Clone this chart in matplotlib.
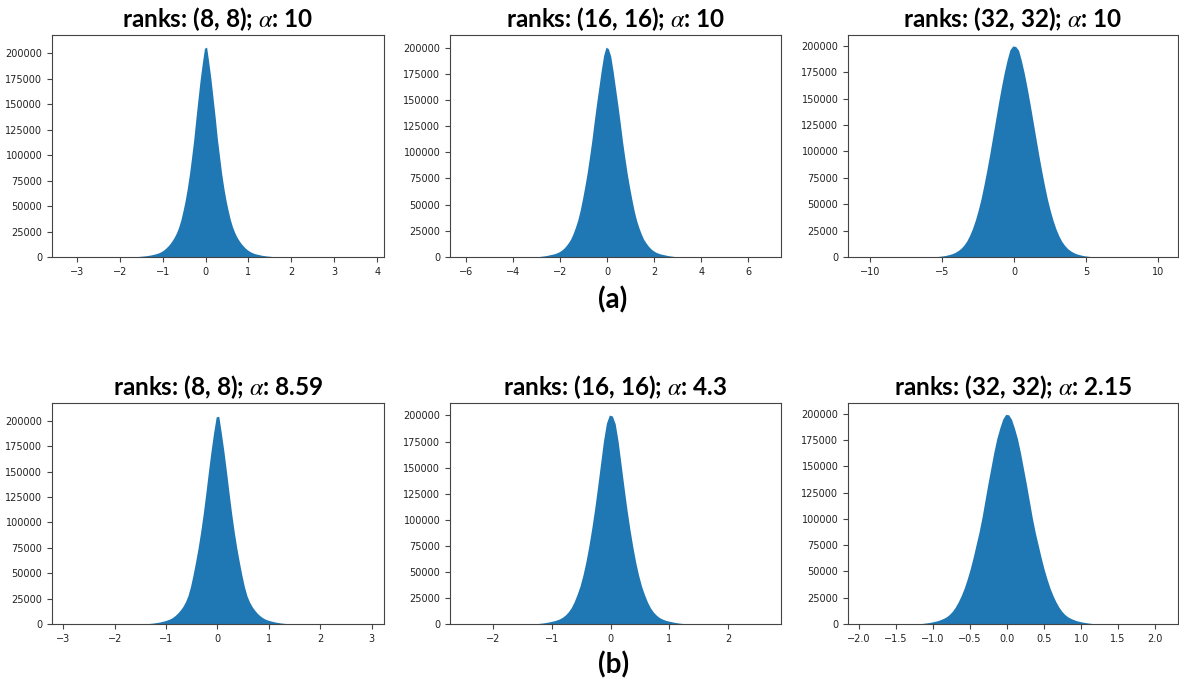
import numpy as np
import matplotlib.pyplot as plt

plt.rcParams['font.size'] = 7
plt.rcParams['mathtext.fontset'] = 'stix'
plt.rcParams['axes.edgecolor'] = '#444444'
plt.rcParams['xtick.color'] = '#444444'
plt.rcParams['ytick.color'] = '#444444'
plt.rcParams['xtick.labelcolor'] = '#222222'
plt.rcParams['ytick.labelcolor'] = '#222222'

titles = [r'ranks: (8, 8); $\alpha$: 10',
          r'ranks: (16, 16); $\alpha$: 10',
          r'ranks: (32, 32); $\alpha$: 10',
          r'ranks: (8, 8); $\alpha$: 8.59',
          r'ranks: (16, 16); $\alpha$: 4.3',
          r'ranks: (32, 32); $\alpha$: 2.15']

# histogram support (first edge, last edge)
support = [(-1.6, 1.6), (-3.0, 3.0), (-5.6, 5.6),
           (-1.4, 1.4), (-1.3, 1.3), (-1.2, 1.2)]

# bin counts, left to right
h1 = [450, 650, 850, 1050, 1300, 1650, 2000, 2500, 3000, 3600, 4400, 5500, 6900, 8700, 10800, 13300,
      16300, 19800, 24000, 29500, 36500, 45500, 55500, 67500, 81500, 98000, 115500, 136000, 155500,
      174500, 190500, 205000,
      206000, 191000, 175000, 156000, 137000, 116000, 99000, 82000, 68000, 56000, 46000, 37000, 30000,
      24500, 20000, 16500, 13500, 11000, 8800, 7000, 5600, 4500, 3600, 3000, 2500, 2000, 1600, 1300,
      1000, 800, 600, 400]
h2 = [350, 550, 850, 1150, 1550, 2050, 2550, 3050, 3850, 4850, 6300, 8100, 10600, 13600, 17200, 22200,
      28300, 35300, 44300, 55300, 67300, 80300, 95500, 111500, 129500, 146500, 162500, 178500, 192500,
      200500,
      199000, 192000, 178000, 162000, 146000, 129000, 111000, 95000, 80000, 67000, 55000, 44000, 35000,
      28000, 22000, 17000, 13500, 10500, 8000, 6200, 4800, 3800, 3000, 2500, 2000, 1500, 1100, 800, 500,
      300]
h3 = [300, 500, 800, 1150, 1650, 2350, 3150, 4350, 6000, 8100, 11100, 15000, 20300, 26800, 34800, 44300,
      55300, 68300, 82300, 97300, 113300, 129300, 145300, 160300, 174300, 186300, 196300, 200000,
      199500, 196000, 186000, 174000, 160000, 145000, 129000, 113000, 97000, 82000, 68000, 55000, 44000,
      34500, 26500, 20000, 14800, 11000, 8000, 5900, 4300, 3100, 2300, 1600, 1100, 750, 450, 250]
h4 = [350, 550, 800, 1100, 1500, 1950, 2550, 3150, 4000, 5000, 6400, 8300, 10700, 13600, 17100, 21700,
      27800, 36800, 48500, 61500, 75500, 91500, 109500, 129500, 150500, 170500, 188500, 204000,
      204500, 188000, 170000, 150000, 129000, 109000, 91000, 75000, 61000, 48000, 36500, 27500, 21500,
      17000, 13500, 10500, 8200, 6300, 4900, 3900, 3100, 2500, 1900, 1450, 1050, 750, 500, 300]
h5 = [350, 550, 850, 1250, 1750, 2350, 2950, 3750, 4850, 6400, 8600, 11600, 15600, 21200, 28300, 36300,
      46800, 59500, 74500, 91500, 110500, 131500, 153500, 175500, 192500, 200300,
      199500, 192000, 175000, 153000, 131000, 110000, 91000, 74000, 59000, 46500, 36000, 28000, 21000,
      15500, 11500, 8500, 6300, 4800, 3700, 2900, 2300, 1700, 1200, 800, 500, 300]
h6 = [300, 600, 950, 1350, 1850, 2450, 3150, 4150, 5350, 6850, 9100, 12100, 16100, 21100, 27100, 34100,
      42600, 52200, 63200, 75300, 87300, 101300, 117300, 133300, 148300, 163300, 176300, 186300,
      194800, 199400,
      199000, 194500, 186000, 176000, 163000, 148000, 133000, 117000, 101000, 87000, 75000, 63000, 52000,
      42500, 34000, 27000, 21000, 16000, 12000, 9000, 6800, 5300, 4100, 3100, 2400, 1800, 1300, 900,
      550, 300]
heights = [h1, h2, h3, h4, h5, h6]

xlims = [(-3.58, 4.16), (-6.68, 7.39), (-11.53, 11.37),
         (-3.22, 3.24), (-2.74, 2.9), (-2.15, 2.31)]
ylims = [218000, 212100, 210400, 217600, 211900, 210200]

fig = plt.figure(figsize=(11.79, 6.86), dpi=100)
lefts = [0.0441, 0.3817, 0.7193]
widths = [0.2816, 0.2807, 0.2799]
bottoms = [0.6254, 0.0904]
heights_ax = [0.3236, 0.3221]

for i in range(6):
    r, c = divmod(i, 3)
    ax = fig.add_axes([lefts[c], bottoms[r], widths[c], heights_ax[r]])
    lo, hi = support[i]
    edges = np.linspace(lo, hi, len(heights[i]) + 1)
    mids = (edges[:-1] + edges[1:]) / 2
    # very fine bins in the original -> the outline reads as a smooth curve
    ax.fill_between(mids, heights[i], 0, color='#1f77b4', lw=0)
    ax.set_xlim(*xlims[i])
    ax.set_ylim(0, ylims[i])
    ax.set_yticks(np.arange(0, 200001, 25000))
    ax.tick_params(labelsize=7, length=3.5, width=0.8)
    ax.set_title(titles[i], fontsize=17.5, fontweight='bold', family='Lato', pad=6)

fig.text(0.52, 1 - 300 / 686, '(a)', ha='center', va='center', fontsize=20,
         fontweight='bold', family='Lato')
fig.text(0.52, 1 - 665 / 686, '(b)', ha='center', va='center', fontsize=20,
         fontweight='bold', family='Lato')

plt.savefig('out.png', dpi=100)
